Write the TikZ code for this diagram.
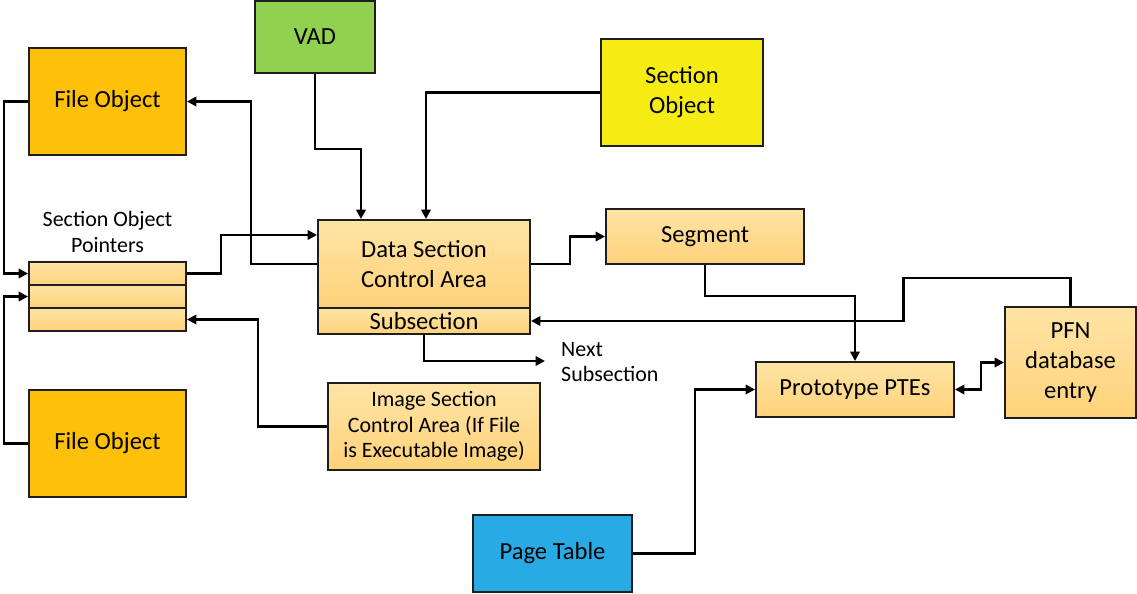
\documentclass[tikz,border=0pt]{standalone}
\usepackage{fontspec}
\setmainfont{Carlito}
\usetikzlibrary{arrows.meta}
\definecolor{fileorange}{RGB}{255,192,10}
\definecolor{vadgreen}{RGB}{146,208,80}
\definecolor{secyellow}{RGB}{245,236,20}
\definecolor{tableblue}{RGB}{40,170,228}
\definecolor{paletop}{RGB}{255,228,165}
\definecolor{palebot}{RGB}{255,210,122}
\definecolor{edge}{RGB}{30,30,30}
\tikzset{
  box/.style={draw=edge, line width=1.1pt, align=center, inner sep=1pt,
    font=\fontsize{14}{17}\selectfont},
  pale/.style={box, top color=paletop, bottom color=palebot},
  small/.style={align=center, font=\fontsize{12.5}{14.5}\selectfont},
  arr/.style={draw=black, line width=1.3pt, -{Triangle[length=1.9mm,width=1.9mm]}},
}

\begin{document}
\begin{tikzpicture}
      \useasboundingbox (0,0) rectangle (22.74,-11.86);
      \node[box, fill=fileorange, minimum width=3.14cm, minimum height=2.14cm] (fileA) at (2.15,-2.03) {File Object};
      \node[box, fill=fileorange, minimum width=3.14cm, minimum height=2.14cm] (fileB) at (2.15,-8.87) {File Object};
      \node[box, fill=vadgreen, minimum width=2.40cm, minimum height=1.44cm] (vad) at (6.30,-0.74) {VAD};
      \node[box, fill=secyellow, minimum width=3.24cm, minimum height=2.14cm] (secobj) at (13.64,-1.85) {Section\\Object};
      \node[small] (ptrlabel) at (2.15,-4.64) {Section Object\\Pointers};
      \foreach \i/\y in {1/-5.47, 2/-5.93, 3/-6.39} {
	\node[pale, minimum width=3.14cm, minimum height=0.46cm] (ptr\i) at (2.15,\y) {};
      };
      \node[pale, minimum width=4.24cm, minimum height=1.76cm] (dsca) at (8.48,-5.28) {Data Section\\Control Area};
      \node[pale, minimum width=4.24cm, minimum height=0.52cm] (subsec) at (8.48,-6.42) {Subsection};
      \node[pale, minimum width=3.96cm, minimum height=1.10cm] (segment) at (14.10,-4.73) {Segment};
      \node[pale, minimum width=3.96cm, minimum height=1.10cm] (proto) at (17.10,-7.79) {Prototype PTEs};
      \node[pale, minimum width=2.62cm, minimum height=2.22cm] (pfn) at (21.41,-7.25) {PFN\\database\\entry};
      \node[pale, small, minimum width=4.24cm, minimum height=1.74cm] (image) at (8.68,-8.53) {Image Section\\Control Area (If File\\is Executable Image)};
      \node[box, fill=tableblue, minimum width=3.18cm, minimum height=1.54cm] (pagetab) at (11.05,-11.07) {Page Table};
      \coordinate (nextpt) at (10.90,-7.22);
      \node[small, align=left, anchor=west] (nextlabel) at (11.10,-7.24) {Next\\Subsection};
      % connectors
      \draw[arr] (fileA.west) -- ++(-0.48,0) |- (ptr1.west);
      \draw[arr] (fileB.west) -- ++(-0.48,0) |- (ptr2.west);
      \draw[arr] (ptr1.east) -- ++(0.68,0) |- ([yshift=0.58cm]dsca.west);
      \draw[arr] (dsca.west) -- ++(-1.32,0) |- (fileA.east);
      \draw[arr] (vad.south) -- ++(0,-1.50) -| ([xshift=-1.26cm]dsca.north);
      \draw[arr] (secobj.west) -| ([xshift=0.04cm]dsca.north);
      \draw[arr] (dsca.east) -- ++(0.78,0) |- (segment.west);
      \draw[arr] (subsec.south) |- (nextpt);
      \draw[arr] (image.west) -- ++(-1.38,0) |- (ptr3.east);
      \draw[arr] (pfn.north) -- ++(0,0.56) -- ++(-3.34,0) |- (subsec.east);
      \draw[arr] (segment.south) -- ++(0,-0.62) -| (proto.north);
      \draw[arr] (pagetab.east) -- ++(1.24,0) |- (proto.west);
      \draw[arr, {Triangle[length=1.9mm,width=1.9mm]}-{Triangle[length=1.9mm,width=1.9mm]}] (proto.east) -- ++(0.52,0) |- (pfn.west);
    \end{tikzpicture}
\end{document}
